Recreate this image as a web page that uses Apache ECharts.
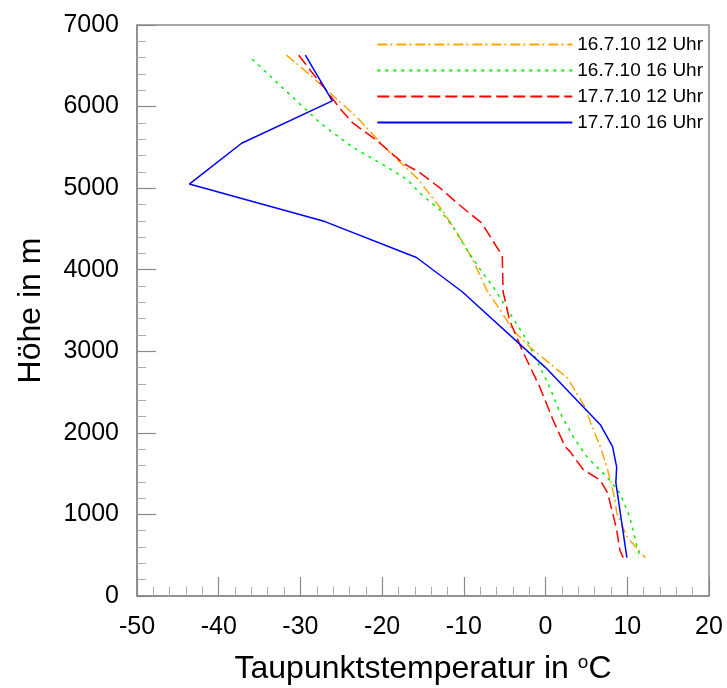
<!DOCTYPE html>
<html>
<head>
<meta charset="utf-8">
<script src="https://cdn.jsdelivr.net/npm/echarts@6/dist/echarts.min.js"></script>
<style>
html,body{margin:0;padding:0;background:#fff;}
#chart{width:727px;height:688px;}
</style>
</head>
<body>
<div id="chart"></div>
<script>
// Legend names
var seriesNames = ['16.7.10 12 Uhr', '16.7.10 16 Uhr', '17.7.10 12 Uhr', '17.7.10 16 Uhr'];

// 16.7.10 12 Uhr (dew point °C, height m)
var orangeT = [-31.7, -29.2, -26.4, -23.1, -19.4, -15.7, -12.5, -10.1, -8.9, -7.2, -5.3, -4.0, -1.9, 2.7, 4.8, 5.6, 6.7, 7.6, 8.5, 8.7, 10.0, 12.2];
var orangeH = [6630, 6420, 6170, 5870, 5470, 5120, 4710, 4330, 4120, 3750, 3470, 3260, 3050, 2670, 2320, 2100, 1830, 1550, 1180, 1020, 720, 470];

// 16.7.10 16 Uhr
var greenT = [-35.9, -27.6, -23.6, -19.4, -16.9, -15.4, -12.9, -11.3, -9.6, -7.7, -6.4, -4.4, -2.3, -1.1, 0.5, 1.8, 3.4, 5.1, 7.5, 9.1, 10.3, 11.2, 11.6];
var greenH = [6580, 5800, 5500, 5260, 5100, 4940, 4730, 4520, 4240, 3960, 3790, 3470, 3140, 2890, 2560, 2240, 1950, 1700, 1460, 1260, 970, 600, 470];

// 17.7.10 12 Uhr
var redT = [-30.2, -28.6, -26.6, -25.2, -23.6, -20.6, -17.5, -15.4, -12.9, -10.5, -7.8, -5.3, -5.2, -4.4, -2.9, -0.7, 0.9, 2.4, 3.0, 4.6, 6.7, 7.6, 8.2, 8.7, 9.1, 9.5];
var redH = [6630, 6420, 6170, 5980, 5800, 5580, 5310, 5190, 5000, 4790, 4570, 4170, 3730, 3380, 3020, 2560, 2160, 1830, 1770, 1550, 1420, 1260, 1020, 810, 560, 470];

// 17.7.10 16 Uhr
var blueT = [-29.4, -26.1, -37.2, -43.6, -27.0, -15.8, -10.2, 0.0, 6.7, 8.2, 8.7, 8.6, 9.95];
var blueH = [6630, 6070, 5550, 5050, 4590, 4150, 3730, 2800, 2100, 1830, 1580, 1390, 470];

function zip(t, h) { return t.map(function (v, i) { return [v, h[i]]; }); }

var font = 'Liberation Sans, Arial, Helvetica, sans-serif';
var gray = '#8a8a8a';

var chart = echarts.init(document.getElementById('chart'), null, {renderer: 'canvas'});

function mk(name, t, h, color, dash) {
  return {
    name: name,
    type: 'line',
    data: zip(t, h),
    symbol: 'none',
    showSymbol: false,
    smooth: false,
    animation: false,
    lineStyle: {color: color, width: 1.5, type: dash},
    itemStyle: {color: color}
  };
}

chart.setOption({
  animation: false,
  backgroundColor: '#fff',
  grid: {left: 137, right: 18, top: 25, bottom: 92, outerBoundsMode: 'none', containLabel: false,
         show: true, borderColor: gray, borderWidth: 1.5, backgroundColor: 'transparent'},
  legend: {
    orient: 'vertical',
    right: 19,
    top: 30,
    itemWidth: 195,
    itemHeight: 14,
    itemGap: 7,
    itemStyle: {opacity: 0},
    textStyle: {fontFamily: font, fontSize: 19, color: '#000', padding: [0, 0, 0, 0]},
    data: seriesNames
  },
  xAxis: {
    type: 'value',
    min: -50, max: 20, interval: 10,
    name: 'Taupunktstemperatur in {sup|o}C',
    nameLocation: 'middle',
    nameGap: 57,
    nameTextStyle: {fontFamily: font, fontSize: 32, color: '#000', rich: {sup: {fontFamily: font, fontSize: 19, verticalAlign: 'top', color: '#000'}}},
    axisLine: {show: true, onZero: false, lineStyle: {color: gray, width: 1.5}},
    axisTick: {show: true, inside: true, length: 19, lineStyle: {color: gray, width: 1.2}},
    minorTick: {show: true, splitNumber: 5, length: 9, lineStyle: {color: '#aaa', width: 1}},
    axisLabel: {fontFamily: font, fontSize: 25, color: '#000', margin: 19, formatter: function (v) { return String(v); }},
    splitLine: {show: false}
  },
  yAxis: {
    type: 'value',
    min: 0, max: 7000, interval: 1000,
    name: 'Höhe in m',
    nameLocation: 'middle',
    nameGap: 90,
    nameTextStyle: {fontFamily: font, fontSize: 32, color: '#000'},
    axisLine: {show: true, onZero: false, lineStyle: {color: gray, width: 1.5}},
    axisTick: {show: true, inside: true, length: 19, lineStyle: {color: gray, width: 1.2}},
    minorTick: {show: true, splitNumber: 5, length: 9, lineStyle: {color: '#aaa', width: 1}},
    axisLabel: {fontFamily: font, fontSize: 25, color: '#000', margin: 18, formatter: function (v) { return String(v); }},
    splitLine: {show: false}
  },
  series: [
    mk(seriesNames[0], orangeT, orangeH, '#ffa500', [10, 3, 2, 4]),
    mk(seriesNames[1], greenT, greenH, '#00ee00', [3, 5]),
    mk(seriesNames[2], redT, redH, '#ff0000', [12, 5]),
    mk(seriesNames[3], blueT, blueH, '#0000ff', 'solid')
  ]
});
</script>
</body>
</html>
